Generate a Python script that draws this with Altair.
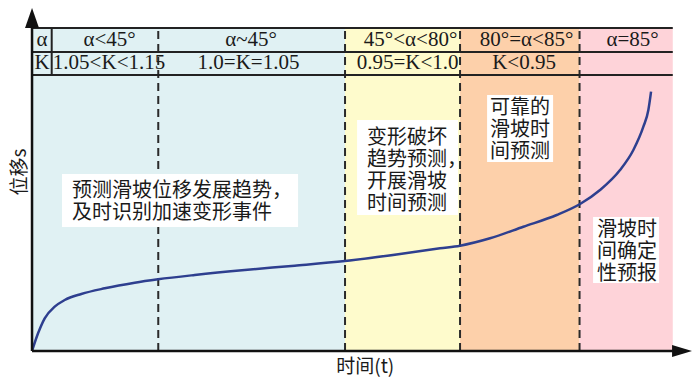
import altair as alt
import pandas as pd

# ---------------- data (time t: 0..100, displacement s: 0..100 = table top) ----------------
zone_start = [0, 48.85, 66.8, 85.45]
zone_end = [48.85, 66.8, 85.45, 100]
zone_color = ["#e0f1f3", "#fefbcc", "#fdd0aa", "#fed3d9"]

dash_x = [19.7, 48.85, 66.8, 85.45]

table_line_y = [100, 92.57, 85.45]
alpha_col_x = 3.07

row1_labels = ["α", "α<45°", "α~45°", "45°<α<80°", "80°=α<85°", "α=85°"]
row1_x = [1.56, 12.1, 34.18, 59.08, 77.18, 93.73]
row1_y = 96.3
row2_labels = ["K", "1.05<K<1.15", "1.0=K=1.05", "0.95=K<1.0", "K<0.95"]
row2_x = [1.56, 12.02, 33.79, 58.61, 76.79]
row2_y = 89.1

curve_t = [0, 0.94, 1.98, 3.54, 5.10, 7.69, 11.35, 16.03, 19.67, 25.39, 33.20, 41.00,
           48.81, 57.44, 63.68, 66.80, 71.48, 76.68, 81.89, 85.53, 88.65, 91.77,
           93.85, 95.41, 96.19, 96.61]
curve_s = [0, 5.48, 10.12, 13.72, 15.79, 17.65, 19.41, 21.15, 22.20, 23.53, 25.08, 26.41,
           27.86, 30.03, 31.80, 32.60, 34.89, 38.48, 42.11, 45.51, 49.85, 56.04,
           62.23, 69.44, 74.61, 80.28]

box_text = ["预测滑坡位移发展趋势，\n及时识别加速变形事件",
            "变形破坏\n趋势预测，\n开展滑坡\n时间预测",
            "可靠的\n滑坡时\n间预测",
            "滑坡时\n间确定\n性预报"]
box_x1 = [4.68, 50.73, 71.02, 87.56]
box_x2 = [41.52, 66.49, 81.32, 97.86]
box_y1 = [38.39, 42.11, 58.51, 21.05]
box_y2 = [54.80, 71.52, 79.26, 41.49]
box_text_x = [6.24, 52.29, 71.48, 88.19]
box_text_top = [52.48, 69.04, 78.33, 40.56]

x_title = "时间(t)"
x_title_pos = (52.0, -5.1)
y_title = "位移s"
y_title_pos = (-1.9, 55.4)

# ---------------- scales ----------------
X_DOM = [-3.75, 103]
Y_DOM = [-8.36, 106.19]
xs = alt.Scale(domain=X_DOM, nice=False, zero=False)
ys = alt.Scale(domain=Y_DOM, nice=False, zero=False)


def X(f="x"):
    return alt.X(f"{f}:Q", scale=xs, axis=None)


def Y(f="y"):
    return alt.Y(f"{f}:Q", scale=ys, axis=None)


zones = pd.DataFrame({"x": zone_start, "x2": zone_end, "y": 0, "y2": 100, "c": zone_color})
bg = alt.Chart(zones).mark_rect().encode(
    x=X(), x2="x2:Q", y=Y(), y2="y2:Q", color=alt.Color("c:N", scale=None))

dashes = alt.Chart(pd.DataFrame({"x": dash_x, "y": 0, "y2": 100})).mark_rule(
    color="#2a2a2a", strokeWidth=2, strokeDash=[8, 5]).encode(x=X(), y=Y(), y2="y2:Q")

boxes_df = pd.DataFrame({"x": box_x1, "x2": box_x2, "y": box_y1, "y2": box_y2})
boxes = alt.Chart(boxes_df).mark_rect(color="white").encode(
    x=X(), x2="x2:Q", y=Y(), y2="y2:Q")

curve = alt.Chart(pd.DataFrame({"x": curve_t, "y": curve_s})).mark_line(
    color="#2e3f8f", strokeWidth=2.5, interpolate="monotone").encode(x=X(), y=Y())

hlines = alt.Chart(pd.DataFrame({"x": 0, "x2": 100, "y": table_line_y})).mark_rule(
    color="#222222", strokeWidth=2).encode(x=X(), x2="x2:Q", y=Y())
vline = alt.Chart(pd.DataFrame({"x": [alpha_col_x], "y": [table_line_y[2]], "y2": [table_line_y[0]]})).mark_rule(
    color="#222222", strokeWidth=2).encode(x=X(), y=Y(), y2="y2:Q")

axis_x = alt.Chart(pd.DataFrame({"x": [0], "x2": [100], "y": [0]})).mark_rule(
    color="#111111", strokeWidth=2.5).encode(x=X(), x2="x2:Q", y=Y())
axis_y = alt.Chart(pd.DataFrame({"x": [0], "y": [0], "y2": [101]})).mark_rule(
    color="#111111", strokeWidth=2.5).encode(x=X(), y=Y(), y2="y2:Q")

arrow_up = alt.Chart(pd.DataFrame({"x": [0], "y": [103.1]})).mark_point(
    shape="M0,-1L-0.7,1L0.7,1Z", size=400, filled=True, color="#111111", opacity=1,
    strokeWidth=0).encode(x=X(), y=Y())
arrow_right = alt.Chart(pd.DataFrame({"x": [101.45], "y": [0]})).mark_point(
    shape="M1,0L-1,-0.6L-1,0.6Z", size=400, filled=True, color="#111111", opacity=1,
    strokeWidth=0).encode(x=X(), y=Y())

serif = "Liberation Serif"
cjk = "Noto Sans CJK SC"

row1 = alt.Chart(pd.DataFrame({"x": row1_x, "y": row1_y, "t": row1_labels})).mark_text(
    font=serif, fontSize=21, color="#1a1a1a", baseline="middle").encode(x=X(), y=Y(), text="t:N")
row2 = alt.Chart(pd.DataFrame({"x": row2_x, "y": row2_y, "t": row2_labels})).mark_text(
    font=serif, fontSize=21, color="#1a1a1a", baseline="middle").encode(x=X(), y=Y(), text="t:N")

box_txt = alt.Chart(pd.DataFrame({"x": box_text_x, "y": box_text_top, "t": box_text})).mark_text(
    font=cjk, fontSize=20, color="#1a1a1a", align="left", baseline="top",
    lineBreak="\n", lineHeight=22).encode(x=X(), y=Y(), text="t:N")

xt = alt.Chart(pd.DataFrame({"x": [x_title_pos[0]], "y": [x_title_pos[1]], "t": [x_title]})).mark_text(
    font=cjk, fontSize=19, color="#1a1a1a", baseline="middle").encode(x=X(), y=Y(), text="t:N")
yt = alt.Chart(pd.DataFrame({"x": [y_title_pos[0]], "y": [y_title_pos[1]], "t": [y_title]})).mark_text(
    font=cjk, fontSize=19, color="#1a1a1a", baseline="middle", angle=270).encode(x=X(), y=Y(), text="t:N")

chart = alt.layer(
    bg, dashes, boxes, curve, hlines, vline, axis_x, axis_y, arrow_up, arrow_right,
    row1, row2, box_txt, xt, yt
).properties(
    width=684, height=370,
    autosize=alt.AutoSizeParams(type="none"),
    padding={"left": 0, "right": 0, "top": 0, "bottom": 0},
).configure_view(stroke=None)

chart.save("out.html", embed_options={"renderer": "svg", "actions": False})
